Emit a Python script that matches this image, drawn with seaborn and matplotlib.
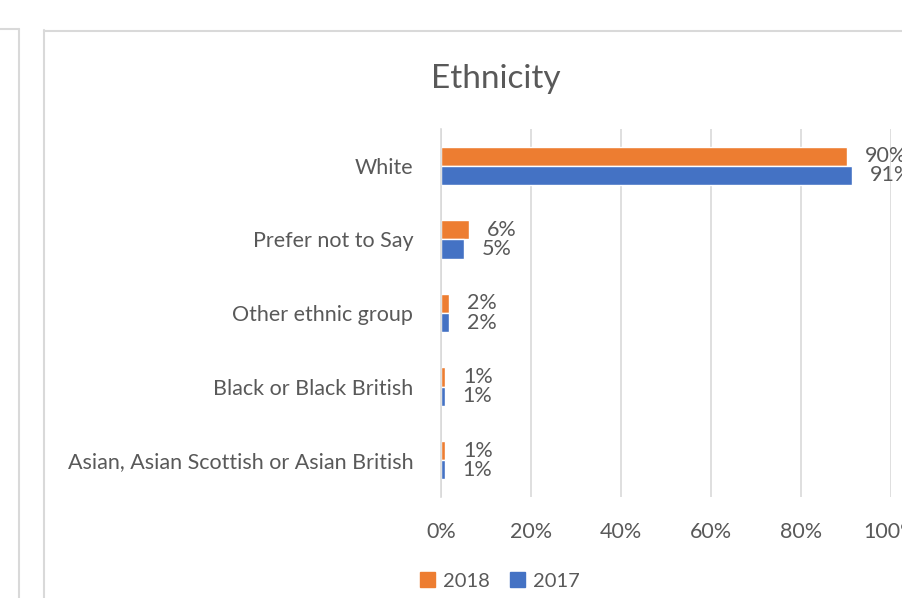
import matplotlib
matplotlib.use("Agg")
import matplotlib.pyplot as plt
import matplotlib.patches as mpatches
import matplotlib.lines as mlines
import seaborn as sns
import pandas as pd

categories = ["White", "Prefer not to Say", "Other ethnic group",
              "Black or Black British", "Asian, Asian Scottish or Asian British"]
share_2018 = [0.902, 0.062, 0.018, 0.010, 0.010]
share_2017 = [0.914, 0.051, 0.018, 0.008, 0.008]
years = ["2018", "2017"]
x_ticks = [0, 0.2, 0.4, 0.6, 0.8, 1.0]

colors = {"2018": "#ED7D31", "2017": "#4472C4"}
text_color = "#595959"
grid_color = "#D9D9D9"
fs = 15.5

df = pd.DataFrame({
    "category": categories * 2,
    "share": share_2018 + share_2017,
    "year": ["2018"] * len(categories) + ["2017"] * len(categories),
})

sns.set_theme(style="white")
plt.rcParams["font.family"] = ["Lato", "DejaVu Sans"]

fig = plt.figure(figsize=(9.03, 5.98), dpi=100)
ax = fig.add_axes([441 / 903, 1 - 497 / 598, 450 / 903, 368 / 598])

sns.barplot(data=df, x="share", y="category", hue="year", hue_order=years,
            order=categories, orient="h", palette=colors, width=0.52,
            saturation=1, ax=ax, legend=False)

ax.set_xlim(0, 1.0)
ax.set_xticks(x_ticks)
ax.set_xticklabels([f"{int(round(t * 100))}%" for t in x_ticks])
ax.grid(axis="x", color=grid_color, linewidth=1.2)
ax.set_axisbelow(True)
for side in ["top", "right", "bottom"]:
    ax.spines[side].set_visible(False)
ax.spines["left"].set_color(grid_color)
ax.spines["left"].set_linewidth(1.2)
ax.tick_params(axis="x", length=0, pad=18, labelsize=fs, labelcolor=text_color)
ax.tick_params(axis="y", length=0, pad=20, labelsize=fs, labelcolor=text_color)
ax.set_xlabel("")
ax.set_ylabel("")

# value labels at the end of each bar
for container in ax.containers:
    ax.bar_label(container, labels=[f"{v * 100:.0f}%" for v in container.datavalues],
                 padding=13, fontsize=fs, color=text_color, clip_on=False)

fig.text(496 / 903, 1 - 79 / 598, "Ethnicity", ha="center", va="center",
         fontsize=24, color=text_color)

# legend below the plot
handles = [mpatches.Patch(color=colors[y], label=y) for y in years]
fig.legend(handles=handles, loc="center", bbox_to_anchor=(500 / 903, 1 - 581 / 598),
           ncol=2, frameon=False, fontsize=14.5, labelcolor=text_color,
           handlelength=0.75, handleheight=0.75, handletextpad=0.4,
           columnspacing=1.0)

# chart frames
border = "#D9D9D9"
fig.add_artist(mlines.Line2D([43.5 / 903, 43.5 / 903], [0, 1 - 30 / 598],
                             color=border, lw=1.5, transform=fig.transFigure))
fig.add_artist(mlines.Line2D([43.5 / 903, 1], [1 - 30.5 / 598, 1 - 30.5 / 598],
                             color=border, lw=1.5, transform=fig.transFigure))
fig.add_artist(mlines.Line2D([19 / 903, 19 / 903], [0, 1 - 29 / 598],
                             color=border, lw=1.5, transform=fig.transFigure))
fig.add_artist(mlines.Line2D([0, 19 / 903], [1 - 29 / 598, 1 - 29 / 598],
                             color=border, lw=1.5, transform=fig.transFigure))

fig.savefig("out.png", dpi=100)
